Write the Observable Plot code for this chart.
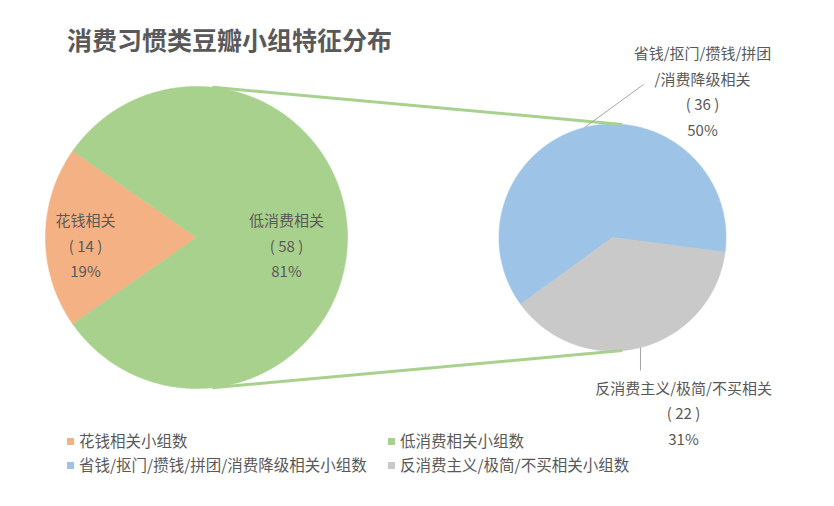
<!DOCTYPE html>
<html><head><meta charset="utf-8">
<script src="https://cdn.jsdelivr.net/npm/d3@7"></script>
<script src="https://cdn.jsdelivr.net/npm/@observablehq/plot@0.6"></script>
<style>
body{margin:0;background:#fff;font-family:"Noto Sans CJK SC","Noto Sans",sans-serif;}
#wrap{position:relative;width:834px;height:506px;overflow:hidden;background:#fff}
#title{position:absolute;left:67px;top:25px;font-size:25px;line-height:28px;font-weight:bold;color:#595959;white-space:nowrap}
#chart{position:absolute;left:0;top:62px}
.lg{position:absolute;font-size:15.5px;line-height:18px;color:#595959;white-space:nowrap}
.sw{display:inline-block;width:7px;height:7px;margin-right:5px;vertical-align:middle;position:relative;top:-1px}
</style></head><body>
<div id="wrap">
  <div id="title">消费习惯类豆瓣小组特征分布</div>
  <div id="chart"></div>
  <div id="legend"></div>
</div>
<script>
// ---- data ----
const outerNames = ["花钱相关", "低消费相关"];
const outerCounts = [14, 58];
const innerNames = ["省钱/抠门/攒钱/拼团/消费降级相关", "反消费主义/极简/不买相关"];
const innerCounts = [36, 22];
const innerLabelNames = ["省钱/抠门/攒钱/拼团\n/消费降级相关", "反消费主义/极简/不买相关"];
const legendNames = ["花钱相关小组数", "低消费相关小组数", "省钱/抠门/攒钱/拼团/消费降级相关小组数", "反消费主义/极简/不买相关小组数"];
const sliceColors = ["#F4B183", "#A9D18E", "#9DC3E6", "#C9C9C9"];

// ---- layout (page pixel coordinates) ----
const P1 = {cx: 196, cy: 237, r: 151, start: 235};
const P2 = {cx: 612, cy: 237, r: 113.5, start: 234};
const total = d3.sum(outerCounts);
const rad = a => a * Math.PI / 180;
const polar = (p, a, r) => ({x: p.cx + r * Math.sin(rad(a)), y: p.cy - r * Math.cos(rad(a))});

function buildSlices(names, counts, p) {
  const sum = d3.sum(counts);
  let a = p.start;
  const pts = [], info = [];
  names.forEach((n, i) => {
    const span = counts[i] / sum * 360;
    const a0 = a;
    pts.push({key: n, x: p.cx, y: p.cy});
    const steps = Math.ceil(span * 2);
    for (let k = 0; k <= steps; k++) {
      const q = polar(p, a0 + span * k / steps, p.r);
      pts.push({key: n, x: q.x, y: q.y});
    }
    pts.push({key: n, x: p.cx, y: p.cy});
    info.push({name: n, count: counts[i], mid: a0 + span / 2});
    a += span;
  });
  return {pts, info};
}
const outer = buildSlices(outerNames, outerCounts, P1);
const inner = buildSlices(innerNames, innerCounts, P2);
const pct = c => Math.round(c / total * 100) + "%";

// labels
const outerLabelR = [111, 90];
const labels = [];
outer.info.forEach((s, i) => {
  const q = polar(P1, s.mid, outerLabelR[i]);
  labels.push({x: q.x, y: q.y + 6, text: `${outerNames[i]}\n( ${s.count} )\n${pct(s.count)}`});
});
const innerLabelPos = [{x: 702, y: 89}, {x: 683, y: 410.5}];
const leaderEnds = [{x: 643, y: 84}, null];
const leaders = [];
inner.info.forEach((s, i) => {
  labels.push({x: innerLabelPos[i].x, y: innerLabelPos[i].y, text: `${innerLabelNames[i]}\n( ${s.count} )\n${pct(s.count)}`});
  const q = polar(P2, s.mid, P2.r);
  const e = leaderEnds[i] || {x: q.x, y: 370};
  leaders.push({x1: q.x, y1: q.y, x2: e.x, y2: e.y});
});

// connector lines between the pies
const connA = 6, connB = 5;
const connectors = [
  {a: polar(P1, connA, P1.r), b: polar(P2, connB, P2.r)},
  {a: polar(P1, 180 - connA, P1.r), b: polar(P2, 180 - connB, P2.r)}
].map(d => ({x1: d.a.x, y1: d.a.y, x2: d.b.x, y2: d.b.y}));

const allNames = [...outerNames, ...innerNames];
const chart = Plot.plot({
  width: 834, height: 390, margin: 0,
  style: {fontFamily: '"Noto Sans CJK SC","Noto Sans",sans-serif', background: "transparent", overflow: "visible"},
  x: {domain: [0, 834], range: [0, 834], axis: null},
  y: {domain: [62, 452], range: [0, 390], axis: null},
  color: {domain: allNames, range: sliceColors},
  marks: [
    Plot.line([...outer.pts, ...inner.pts], {x: "x", y: "y", z: "key", fill: "key", stroke: "key", strokeWidth: 0.6, curve: "linear"}),
    Plot.link(connectors, {x1: "x1", y1: "y1", x2: "x2", y2: "y2", stroke: "#A9D18E", strokeWidth: 3}),
    Plot.link(leaders, {x1: "x1", y1: "y1", x2: "x2", y2: "y2", stroke: "#A6A6A6", strokeWidth: 1}),
    Plot.text(labels, {x: "x", y: "y", text: "text", fill: "#595959", fontSize: 15, lineHeight: 1.7, lineAnchor: "middle", textAnchor: "middle"})
  ]
});
document.getElementById("chart").appendChild(chart);

// legend
const legendPos = [{x: 67, y: 440}, {x: 388, y: 440}, {x: 67, y: 464}, {x: 388, y: 464}];
const lg = document.getElementById("legend");
legendNames.forEach((n, i) => {
  const d = document.createElement("div");
  d.className = "lg";
  d.style.left = legendPos[i].x + "px";
  d.style.top = (legendPos[i].y - 9) + "px";
  d.innerHTML = `<span class="sw" style="background:${sliceColors[i]}"></span>${n}`;
  lg.appendChild(d);
});
</script>
</body></html>
